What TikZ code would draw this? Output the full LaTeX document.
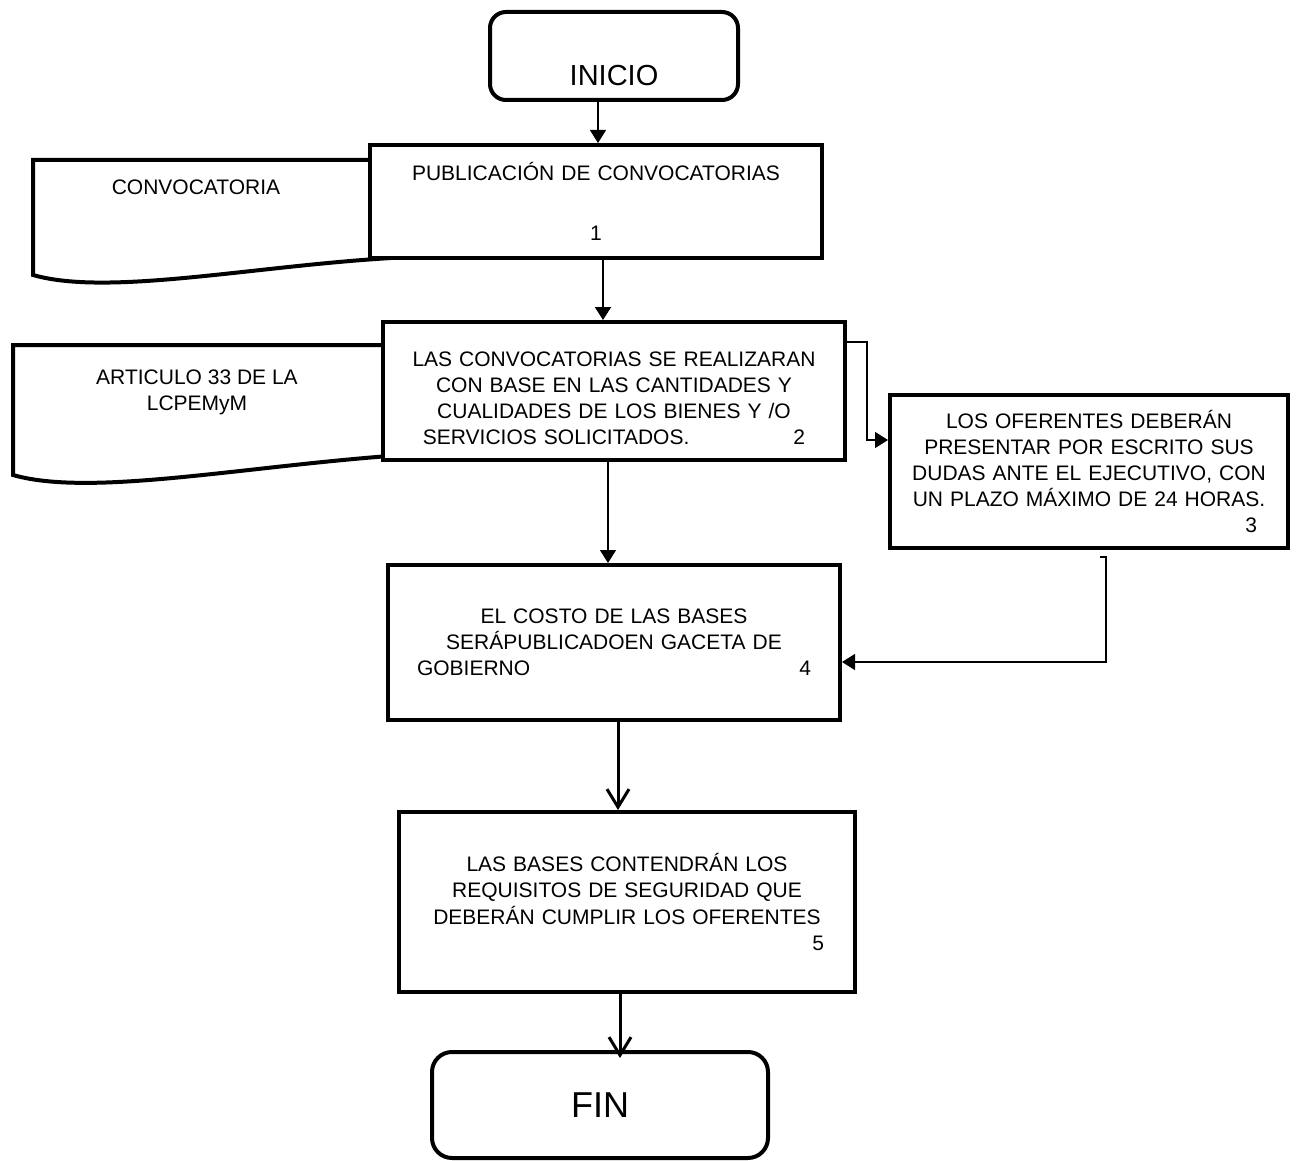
\documentclass[tikz,border=0pt]{standalone}
\usepackage{fontspec}
\setmainfont{Liberation Sans}
\usetikzlibrary{arrows.meta,positioning,calc}

\begin{document}
\begin{tikzpicture}[x=0.5pt,y=-0.5pt,>={Triangle[length=6.5pt,width=8pt]}, every node/.style={font=\fontsize{10.5}{13.1}\selectfont}]
\tikzstyle{procbox}=[draw, line width=2pt, fill=white, align=center, inner sep=0pt]
\tikzstyle{termbox}=[draw, line width=2pt, fill=white, rounded corners=8pt, inner sep=0pt]
\tikzstyle{docshape}=[draw, line width=2pt, fill=white]
\tikzstyle{link}=[->, line width=0.7pt]
\tikzstyle{biglink}=[-{Straight Barb[length=9pt,width=11pt]}, line width=1.5pt]
\useasboundingbox (0,0) rectangle (1297,1161);
% documentos
\draw[docshape] (33,275) -- (33,160) -- (460,160) -- (460,256) .. controls (300,255) and (120,300) .. (33,275) -- cycle;
\draw[docshape] (13,475) -- (13,345) -- (460,345) -- (460,452) .. controls (280,458) and (100,500) .. (13,475) -- cycle;
\node (convdoc) at (196,187) {CONVOCATORIA};
\node[align=center] (artdoc) at (197,392) {ARTICULO 33 DE LA\\LCPEMyM};
% pasos
\node[termbox, minimum width=124pt, minimum height=44pt, font=\fontsize{14.5}{17}\selectfont, text height=29.4pt, text depth=0pt] (inicio) at (614,56) {INICIO};
\node[procbox, minimum width=226pt, minimum height=56.5pt, text width=200pt] (pub) at (596,201.5) {PUBLICACIÓN DE CONVOCATORIAS\\[16.9pt]1};
\node[procbox, minimum width=231pt, minimum height=69pt, text width=212pt] (realiza) at (614,391) {\rule{0pt}{14.5pt}LAS CONVOCATORIAS SE REALIZARAN\\CON BASE EN LAS CANTIDADES Y\\CUALIDADES DE LOS BIENES Y /O\\SERVICIOS SOLICITADOS.\hspace{52pt}2};
\node[procbox, minimum width=199pt, minimum height=76.5pt, text width=180pt] (dudas) at (1089,471.5) {LOS OFERENTES DEBERÁN\\PRESENTAR POR ESCRITO SUS\\DUDAS ANTE EL EJECUTIVO, CON\\UN PLAZO MÁXIMO DE 24 HORAS.\\\hspace*{\fill}3\rule{6pt}{0pt}};
\node[procbox, minimum width=226pt, minimum height=77.5pt, text width=197pt] (costo) at (614,642.5) {EL COSTO DE LAS BASES\\SERÁPUBLICADOEN GACETA DE\\GOBIERNO\hfill 4};
\node[procbox, minimum width=228pt, minimum height=90pt, text width=197pt] (bases) at (627,902) {LAS BASES CONTENDRÁN LOS\\REQUISITOS DE SEGURIDAD QUE\\DEBERÁN CUMPLIR LOS OFERENTES\\\hspace*{\fill}5};
\node[termbox, minimum width=168pt, minimum height=53pt, rounded corners=10pt, font=\fontsize{18}{21}\selectfont] (fin) at (600,1105) {FIN};
% flechas
\draw[link] ([xshift=1pt]pub.north |- inicio.south) -- ([xshift=1pt]pub.north);
\draw[link, line width=1pt] ([xshift=3.5pt]pub.south) -- ([xshift=3.5pt]pub.south |- realiza.north);
\draw[link] ([xshift=-3pt]realiza.south) -- ([xshift=-3pt]realiza.south |- costo.north);
\draw[link] ($(realiza.north east)+(0,22)$) -| ($(dudas.west)+(-21,-31.5)$) -- ($(dudas.west)+(0,-31.5)$);
\draw[link] ($(dudas.south)+(11,7)$) -- ++(6,0) |- ($(costo.east)+(0,19.5)$);
\draw[biglink] ([xshift=2pt]costo.south) -- ([xshift=2pt]costo.south |- bases.north);
\draw[biglink, shorten >=-4pt] ([xshift=-3.5pt]bases.south) -- ([xshift=-3.5pt]bases.south |- fin.north);
\end{tikzpicture}
\end{document}
